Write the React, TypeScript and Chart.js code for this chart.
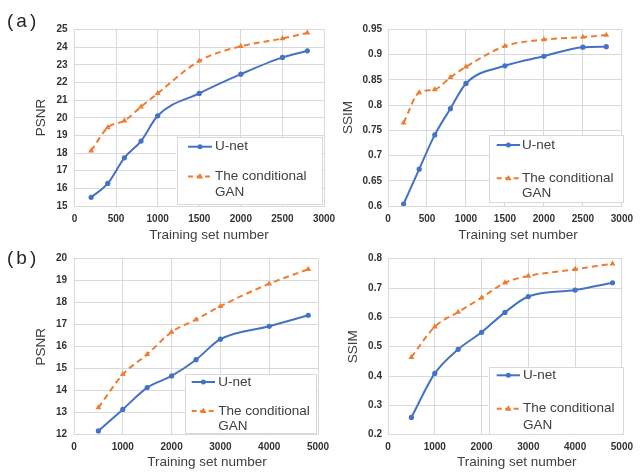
import React, { useEffect, useRef } from "react";
import { Chart, registerables } from "chart.js";

Chart.register(...registerables);

// ---------- data ----------
const xSetA = [200, 400, 600, 800, 1000, 1500, 2000, 2500, 2800];
const psnrUnetA = [15.49, 16.28, 17.73, 18.68, 20.11, 21.38, 22.47, 23.42, 23.79];
const psnrGanA = [18.13, 19.45, 19.83, 20.62, 21.38, 23.22, 24.05, 24.49, 24.81];
const ssimUnetA = [0.604, 0.673, 0.741, 0.793, 0.843, 0.878, 0.897, 0.915, 0.916];
const ssimGanA = [0.765, 0.825, 0.831, 0.855, 0.876, 0.917, 0.93, 0.935, 0.939];

const xSetB = [500, 1000, 1500, 2000, 2500, 3000, 4000, 4800];
const psnrUnetB = [12.17, 13.15, 14.14, 14.67, 15.41, 16.34, 16.93, 17.43];
const psnrGanB = [13.23, 14.74, 15.65, 16.67, 17.23, 17.84, 18.86, 19.52];
const ssimUnetB = [0.259, 0.409, 0.491, 0.549, 0.617, 0.671, 0.693, 0.718];
const ssimGanB = [0.464, 0.568, 0.618, 0.667, 0.718, 0.741, 0.764, 0.783];

const xTicksA = [0, 500, 1000, 1500, 2000, 2500, 3000];
const xTicksB = [0, 1000, 2000, 3000, 4000, 5000];
const psnrTicksA = [15, 16, 17, 18, 19, 20, 21, 22, 23, 24, 25];
const ssimTicksA = [0.6, 0.65, 0.7, 0.75, 0.8, 0.85, 0.9, 0.95];
const psnrTicksB = [12, 13, 14, 15, 16, 17, 18, 19, 20];
const ssimTicksB = [0.2, 0.3, 0.4, 0.5, 0.6, 0.7, 0.8];

const seriesNames = ["U-net", "The conditional GAN"];
const xTitleText = "Training set number";
const panelTags = ["(a)", "(b)"];

// ---------- styling ----------
const FONT = '"Liberation Sans", Arial, sans-serif';
const BLUE = "#4472C4";
const ORANGE = "#ED7D31";
const GRID = "#d9d9d9";
const TEXT = "#404040";

type PanelCfg = {
  x: number[];
  unet: number[];
  gan: number[];
  xTicks: number[];
  yTicks: number[];
  yLabel: string;
  plot: { l: number; t: number; r: number; b: number };
  yTitle: [number, number];
  xTitle: [number, number];
  legend: { l: number; t: number; r: number; b: number; uY: number; cY: number; gY: number; s0: number; s1: number; tx: number };
  tickPad: number;
};

const panels: PanelCfg[] = [
  {
    x: xSetA, unet: psnrUnetA, gan: psnrGanA, xTicks: xTicksA, yTicks: psnrTicksA, yLabel: "PSNR",
    plot: { l: 74.5, t: 29.5, r: 324, b: 206 },
    yTitle: [41.7, 117.5], xTitle: [209, 235],
    legend: { l: 176.5, t: 137, r: 321.5, b: 204, uY: 146.7, cY: 176.5, gY: 192, s0: 188, s1: 212, tx: 215 },
    tickPad: 7,
  },
  {
    x: xSetA, unet: ssimUnetA, gan: ssimGanA, xTicks: xTicksA, yTicks: ssimTicksA, yLabel: "SSIM",
    plot: { l: 388, t: 29.5, r: 627, b: 206 },
    yTitle: [348.3, 117.5], xTitle: [518, 235],
    legend: { l: 489, t: 135, r: 622.5, b: 202, uY: 145, cY: 178.3, gY: 193.5, s0: 496.7, s1: 520, tx: 522 },
    tickPad: 6,
  },
  {
    x: xSetB, unet: psnrUnetB, gan: psnrGanB, xTicks: xTicksB, yTicks: psnrTicksB, yLabel: "PSNR",
    plot: { l: 74, t: 258.7, r: 318, b: 434.7 },
    yTitle: [41.7, 346.7], xTitle: [207, 462.5],
    legend: { l: 185, t: 373.7, r: 316, b: 432.7, uY: 382, cY: 411, gY: 426.5, s0: 191.7, s1: 215, tx: 218.3 },
    tickPad: 7,
  },
  {
    x: xSetB, unet: ssimUnetB, gan: ssimGanB, xTicks: xTicksB, yTicks: ssimTicksB, yLabel: "SSIM",
    plot: { l: 388, t: 258.7, r: 627, b: 434.7 },
    yTitle: [353.3, 346.7], xTitle: [516.7, 462.5],
    legend: { l: 488.5, t: 367, r: 622.5, b: 433.5, uY: 375.3, cY: 408.7, gY: 425.3, s0: 496.7, s1: 520, tx: 523 },
    tickPad: 6,
  },
];

const Y_SCALE_W = 30;
const X_SCALE_H = 20;

function fmt(v: number) {
  return String(Number(Number(v).toFixed(2)));
}

function drawTriangle(ctx: CanvasRenderingContext2D, x: number, y: number, r: number) {
  const h = r * 1.6;
  ctx.beginPath();
  ctx.moveTo(x, y - h * 0.66);
  ctx.lineTo(x + r, y + h * 0.4);
  ctx.lineTo(x - r, y + h * 0.4);
  ctx.closePath();
  ctx.fill();
}

function makeDecor(p: PanelCfg) {
  return {
    id: "decor",
    afterDraw(chart: any) {
      const ctx: CanvasRenderingContext2D = chart.ctx;
      ctx.save();
      // axis titles
      ctx.fillStyle = TEXT;
      ctx.font = `13.5px ${FONT}`;
      ctx.textAlign = "center";
      ctx.textBaseline = "middle";
      ctx.fillText(xTitleText, p.xTitle[0], p.xTitle[1]);
      ctx.save();
      ctx.translate(p.yTitle[0], p.yTitle[1]);
      ctx.rotate(-Math.PI / 2);
      ctx.fillText(p.yLabel, 0, 0);
      ctx.restore();

      // legend box
      const L = p.legend;
      ctx.fillStyle = "#ffffff";
      ctx.fillRect(L.l, L.t, L.r - L.l, L.b - L.t);
      ctx.strokeStyle = GRID;
      ctx.lineWidth = 1;
      ctx.strokeRect(Math.round(L.l) + 0.5, Math.round(L.t) + 0.5, Math.round(L.r - L.l), Math.round(L.b - L.t));

      const mid = (L.s0 + L.s1) / 2;
      // U-net row
      ctx.strokeStyle = BLUE;
      ctx.lineWidth = 2;
      ctx.setLineDash([]);
      ctx.beginPath();
      ctx.moveTo(L.s0, L.uY);
      ctx.lineTo(L.s1, L.uY);
      ctx.stroke();
      ctx.fillStyle = BLUE;
      ctx.beginPath();
      ctx.arc(mid, L.uY, 2.5, 0, Math.PI * 2);
      ctx.fill();
      // GAN row
      ctx.strokeStyle = ORANGE;
      ctx.setLineDash([5, 3.5]);
      ctx.beginPath();
      ctx.moveTo(L.s0, L.cY);
      ctx.lineTo(L.s1, L.cY);
      ctx.stroke();
      ctx.setLineDash([]);
      ctx.fillStyle = ORANGE;
      drawTriangle(ctx, mid, L.cY, 3.2);

      ctx.fillStyle = TEXT;
      ctx.font = `13.5px ${FONT}`;
      ctx.textAlign = "left";
      ctx.textBaseline = "middle";
      ctx.fillText(seriesNames[0], L.tx, L.uY);
      const name2 = seriesNames[1];
      const cut = name2.lastIndexOf(" ");
      ctx.fillText(name2.slice(0, cut), L.tx, L.cY);
      ctx.fillText(name2.slice(cut + 1), L.tx, L.gY);
      ctx.restore();
    },
  };
}

function Panel({ p }: { p: PanelCfg }) {
  const ref = useRef<HTMLCanvasElement>(null);
  useEffect(() => {
    const canvas = ref.current!;
    const tickFont = { family: FONT, size: 10, weight: "bold" as const };
    const chart = new Chart(canvas, {
      type: "line",
      data: {
        datasets: [
          {
            label: seriesNames[0],
            data: p.x.map((xv, i) => ({ x: xv, y: p.unet[i] })),
            borderColor: BLUE,
            backgroundColor: BLUE,
            borderWidth: 2,
            pointStyle: "circle",
            pointRadius: 2.6,
            pointBorderWidth: 0,
            tension: 0.35,
            cubicInterpolationMode: "monotone",
          },
          {
            label: seriesNames[1],
            data: p.x.map((xv, i) => ({ x: xv, y: p.gan[i] })),
            borderColor: ORANGE,
            backgroundColor: ORANGE,
            borderWidth: 2,
            borderDash: [6, 4],
            pointStyle: "triangle",
            pointRadius: 3.4,
            pointBorderWidth: 0,
            tension: 0.35,
            cubicInterpolationMode: "monotone",
          },
        ],
      },
      options: {
        responsive: false,
        animation: false,
        devicePixelRatio: 1,
        layout: {
          padding: {
            left: p.plot.l - Y_SCALE_W,
            top: p.plot.t,
            right: 640 - p.plot.r,
            bottom: 474 - p.plot.b - X_SCALE_H,
          },
        },
        plugins: {
          legend: { display: false },
          tooltip: { enabled: false },
        },
        scales: {
          x: {
            type: "linear",
            min: p.xTicks[0],
            max: p.xTicks[p.xTicks.length - 1],
            afterBuildTicks: (s: any) => {
              s.ticks = p.xTicks.map((v) => ({ value: v }));
            },
            afterFit: (s: any) => {
              s.height = X_SCALE_H;
            },
            grid: { color: GRID, lineWidth: 1, drawTicks: false },
            border: { color: GRID, width: 1 },
            ticks: {
              font: tickFont,
              color: "#333333",
              padding: 7,
              maxRotation: 0,
              autoSkip: false,
              callback: (v: any) => String(v),
            },
          },
          y: {
            type: "linear",
            min: p.yTicks[0],
            max: p.yTicks[p.yTicks.length - 1],
            afterBuildTicks: (s: any) => {
              s.ticks = p.yTicks.map((v) => ({ value: v }));
            },
            afterFit: (s: any) => {
              s.width = Y_SCALE_W;
            },
            grid: { color: GRID, lineWidth: 1, drawTicks: false },
            border: { color: GRID, width: 1 },
            ticks: {
              font: tickFont,
              color: "#333333",
              padding: p.tickPad,
              autoSkip: false,
              callback: (v: any) => fmt(v),
            },
          },
        },
      },
      plugins: [makeDecor(p)],
    } as any);
    return () => chart.destroy();
  }, [p]);
  return (
    <canvas
      ref={ref}
      width={640}
      height={474}
      style={{ position: "absolute", left: 0, top: 0, width: 640, height: 474 }}
    />
  );
}

export default function App() {
  const tagStyle: React.CSSProperties = {
    position: "absolute",
    left: 7,
    fontFamily: FONT,
    fontSize: 19,
    lineHeight: "20px",
    letterSpacing: 3,
    color: "#262626",
  };
  return (
    <div
      style={{
        position: "fixed",
        left: 0,
        top: 0,
        width: 640,
        height: 474,
        background: "#ffffff",
        overflow: "hidden",
      }}
    >
      {panels.map((p, i) => (
        <Panel key={i} p={p} />
      ))}
      <div style={{ ...tagStyle, top: 11 }}>{panelTags[0]}</div>
      <div style={{ ...tagStyle, top: 248 }}>{panelTags[1]}</div>
    </div>
  );
}
